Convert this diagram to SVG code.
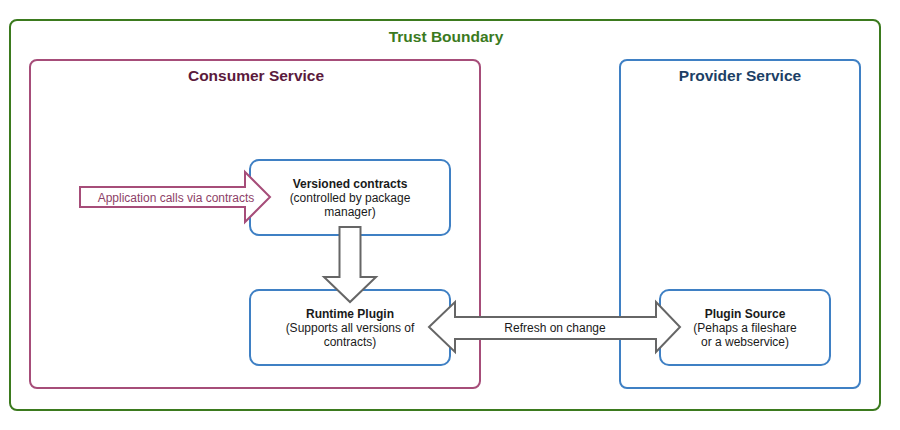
<svg xmlns="http://www.w3.org/2000/svg" width="900" height="430" viewBox="0 0 900 430">
<style>
text{font-family:"Liberation Sans",Arial,sans-serif;text-anchor:middle}
.t{font-size:15.5px;font-weight:bold}
.n{fill:#fff;stroke:#3F80C4;stroke-width:2}
.nl{font-size:12px;fill:#1a1a1a}
.b{font-weight:bold}
.ga{fill:#fff;stroke:#666;stroke-width:2;stroke-linejoin:miter}
</style>
<rect width="900" height="430" fill="#fff"/>
<g id="trust-boundary">
<rect x="10" y="20" width="870" height="390" rx="7" fill="none" stroke="#3B7A1E" stroke-width="2"/>
<text class="t" x="446" y="42" fill="#3B7A1E">Trust Boundary</text>
</g>
<g id="consumer-service">
<rect x="30" y="60" width="450" height="328" rx="7" fill="none" stroke="#A64D79" stroke-width="2"/>
<text class="t" x="256" y="81" fill="#5B1A3C">Consumer Service</text>
</g>
<g id="provider-service">
<rect x="620" y="60" width="240" height="328" rx="7" fill="none" stroke="#3F80C4" stroke-width="2"/>
<text class="t" x="740" y="81" fill="#1C3F66">Provider Service</text>
</g>
<g id="versioned-contracts">
<rect class="n" x="250" y="160" width="200" height="75" rx="9"/>
<text class="nl b" x="350" y="188">Versioned contracts</text>
<text class="nl" x="350" y="202">(controlled by package</text>
<text class="nl" x="350" y="216">manager)</text>
</g>
<g id="runtime-plugin">
<rect class="n" x="250" y="290" width="200" height="75" rx="9"/>
<text class="nl b" x="350" y="318">Runtime Plugin</text>
<text class="nl" x="350" y="332">(Supports all versions of</text>
<text class="nl" x="350" y="346">contracts)</text>
</g>
<g id="plugin-source">
<rect class="n" x="660" y="290" width="170" height="75" rx="9"/>
<text class="nl b" x="745" y="318">Plugin Source</text>
<text class="nl" x="745" y="332">(Pehaps a fileshare</text>
<text class="nl" x="745" y="346">or a webservice)</text>
</g>
<g id="connectors">
<g id="app-calls">
<polygon points="80,187 245,187 245,172 270,197 245,222 245,207 80,207" fill="#fff" stroke="#A64D79" stroke-width="2"/>
<text x="176" y="202" font-size="12" fill="#8E3F68">Application calls via contracts</text>
</g>
<g id="contracts-to-plugin">
<polygon class="ga" points="339.5,227 360.5,227 360.5,277 376,277 350,302 324,277 339.5,277"/>
</g>
<g id="refresh">
<polygon class="ga" points="429,327 455,302 455,317 656,317 656,302 680,327 656,352 656,339 455,339 455,352"/>
<text x="555" y="332" font-size="12" fill="#1a1a1a">Refresh on change</text>
</g>
</g>
</svg>
